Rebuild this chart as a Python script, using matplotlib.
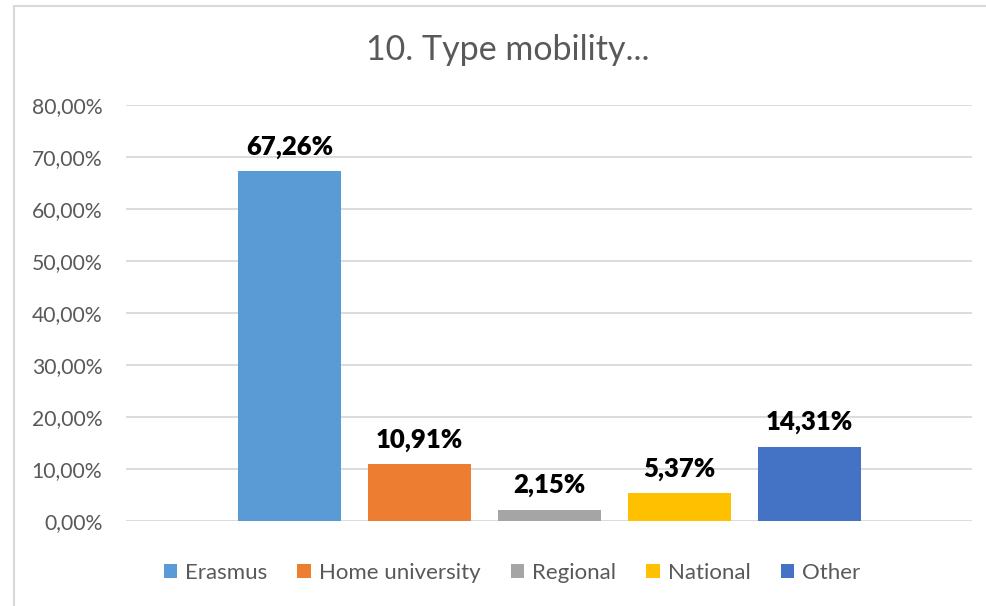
import matplotlib.pyplot as plt
from matplotlib.patches import Rectangle
from matplotlib.ticker import FuncFormatter

categories = ['Erasmus', 'Home university', 'Regional', 'National', 'Other']
values = [67.26, 10.91, 2.15, 5.37, 14.31]
colors = ['#5B9BD5', '#ED7D31', '#A5A5A5', '#FFC000', '#4472C4']

plt.rcParams['font.family'] = ['Lato', 'DejaVu Sans']

W, H = 987, 606
fig = plt.figure(figsize=(W / 100, H / 100), dpi=100)
ax = fig.add_axes([126 / W, 1 - 521 / H, (972 - 126) / W, (521 - 105) / H])

# chart frame (only left and top visible, the rest is cropped)
fig.patches.append(Rectangle((14 / W, -0.1), 1.2, 1 - 6 / H + 0.1,
                             transform=fig.transFigure, fill=False,
                             edgecolor='#D9D9D9', linewidth=1.5))

x = range(len(categories))
bars = ax.bar(x, [v / 100 for v in values], width=0.79, color=colors, zorder=3)

for b, v in zip(bars, values):
    ax.text(b.get_x() + b.get_width() / 2, b.get_height() + 0.032,
            f'{v:.2f}%'.replace('.', ','), ha='center', va='baseline',
            fontsize=18.5, fontweight='heavy', color='black')

ax.set_xlim(-1.258, 5.25)
ax.set_ylim(0, 0.8)
ax.set_yticks([i / 10 for i in range(9)])
ax.yaxis.set_major_formatter(FuncFormatter(lambda y, _: f'{y * 100:.2f}%'.replace('.', ',')))
ax.set_xticks([])
ax.grid(axis='y', color='#D9D9D9', linewidth=1.3, zorder=0)
ax.tick_params(axis='y', length=0, pad=17, labelsize=15.2, labelcolor='#595959')
for s in ax.spines.values():
    s.set_visible(False)

fig.text(508 / W, 1 - 50 / H, '10. Type mobility...', ha='center', va='center',
         fontsize=24.5, color='#595959')

leg = fig.legend(handles=bars, labels=categories, loc='center',
                 bbox_to_anchor=(512 / W, 1 - 573 / H), ncol=5, frameon=False,
                 fontsize=16, handlelength=0.62, handleheight=0.62,
                 handletextpad=0.35, columnspacing=1.35)
for t in leg.get_texts():
    t.set_color('#595959')

fig.savefig('out.png', dpi=100)
